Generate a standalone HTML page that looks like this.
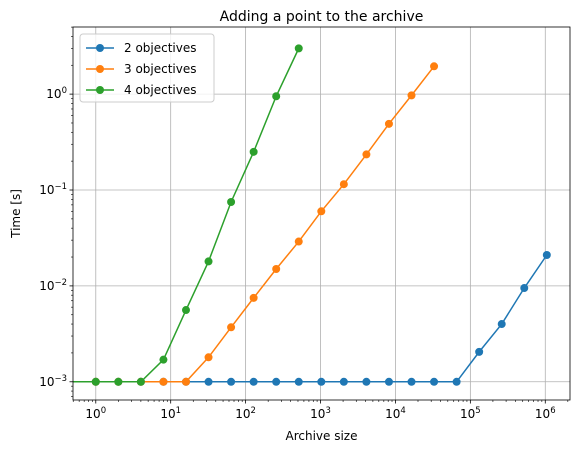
<!DOCTYPE html>
<html><head><meta charset="utf-8"><style>
body{margin:0;background:#fff;font-family:"Liberation Sans","DejaVu Sans",sans-serif}
</style></head><body>
<svg id="chart" width="578" height="457" xmlns="http://www.w3.org/2000/svg" font-family="DejaVu Sans, Liberation Sans, sans-serif">
</svg>
<script>
const sizes=[1,2,4,8,16,32,64,128,256,512,1024,2048,4096,8192,16384,32768,65536,131072,262144,524288,1048576];
const obj2=[1e-3,1e-3,1e-3,1e-3,1e-3,1e-3,1e-3,1e-3,1e-3,1e-3,1e-3,1e-3,1e-3,1e-3,1e-3,1e-3,1e-3,2.05e-3,4.0e-3,9.5e-3,2.1e-2];
const obj3=[1e-3,1e-3,1e-3,1e-3,1e-3,1.8e-3,3.7e-3,7.5e-3,1.5e-2,2.9e-2,6.0e-2,1.15e-1,2.35e-1,4.9e-1,0.97,1.95];
const obj4=[1e-3,1e-3,1e-3,1.7e-3,5.6e-3,1.8e-2,7.5e-2,0.25,0.95,3.0];
const seriesNames=["2 objectives","3 objectives","4 objectives"];
const colors=["#1f77b4","#ff7f0e","#2ca02c"];
const xTicks=[0,1,2,3,4,5,6];
const yTicks=[-3,-2,-1,0];

const L=73,R=570,T=27,B=400;
const xMin=Math.log10(0.5)-0.003,xMax=6.33,yMin=-3.19,yMax=0.7;
const X=v=>L+(Math.log10(v)-xMin)/(xMax-xMin)*(R-L);
const Y=v=>B-(Math.log10(v)-yMin)/(yMax-yMin)*(B-T);
const svg=document.getElementById('chart');
const NS='http://www.w3.org/2000/svg';
function mk(t,a,p){const e=document.createElementNS(NS,t);for(const k in a)e.setAttribute(k,a[k]);(p||svg).appendChild(e);return e;}

xTicks.forEach(t=>{const x=L+(t-xMin)/(xMax-xMin)*(R-L);
 const g=mk('line',{x1:x,x2:x,y1:T,y2:B,stroke:'#b0b0b0','stroke-width':0.8});
 
 });
yTicks.forEach(t=>{const y=B-(t-yMin)/(yMax-yMin)*(B-T);
 const g=mk('line',{x1:L,x2:R,y1:y,y2:y,stroke:'#b0b0b0','stroke-width':0.8});
 
 });

const data=[obj2,obj3,obj4];
data.forEach((vals,i)=>{
 const g=mk('g',{});
 
 
 let pts=[[L,Y(vals[0])]];
 vals.forEach((v,j)=>pts.push([X(sizes[j]),Y(v)]));
 mk('polyline',{points:pts.map(p=>p.join(',')).join(' '),fill:'none',stroke:colors[i],'stroke-width':1.5},g);
 vals.forEach((v,j)=>{const c=mk('circle',{cx:X(sizes[j]),cy:Y(v),r:4,fill:colors[i]},g);
  
  });
});

const fr=mk('rect',{x:L,y:T,width:R-L,height:B-T,fill:'none',stroke:'#000','stroke-width':0.8});



for(let d=-1;d<=6;d++){for(let m=1;m<10;m++){const v=m*Math.pow(10,d);const lv=Math.log10(v);
 if(lv<xMin||lv>xMax)continue;const x=L+(lv-xMin)/(xMax-xMin)*(R-L);
 mk('line',{x1:x,x2:x,y1:B,y2:B+(m==1?3.5:2),stroke:'#000','stroke-width':m==1?0.8:0.6});}}
xTicks.forEach(t=>{const x=L+(t-xMin)/(xMax-xMin)*(R-L);
 const tx=mk('text',{x:x,y:B+18,'text-anchor':'middle','font-size':12,fill:'#000'});
 tx.innerHTML='10<tspan dy="-5" font-size="8.5">'+t+'</tspan>';
 
 });
for(let d=-4;d<=0;d++){for(let m=1;m<10;m++){const v=m*Math.pow(10,d);const lv=Math.log10(v);
 if(lv<yMin||lv>yMax)continue;const y=B-(lv-yMin)/(yMax-yMin)*(B-T);
 mk('line',{x1:L,x2:L-(m==1?3.5:2),y1:y,y2:y,stroke:'#000','stroke-width':m==1?0.8:0.6});}}
yTicks.forEach(t=>{const y=B-(t-yMin)/(yMax-yMin)*(B-T);
 const tx=mk('text',{x:L-6,y:y+4,'text-anchor':'end','font-size':12,fill:'#000'});
 tx.innerHTML='10<tspan dy="-5" font-size="8.5">'+(t<0?'\u2212'+(-t):t)+'</tspan>';
 
 });

let e;
e=mk('text',{x:(L+R)/2,y:B+40,'text-anchor':'middle','font-size':12});e.textContent='Archive size';


e=mk('text',{x:20,y:(T+B)/2,'text-anchor':'middle','font-size':12,transform:'rotate(-90 20 '+(T+B)/2+')'});e.textContent='Time [s]';


e=mk('text',{x:(L+R)/2,y:T-6,'text-anchor':'middle','font-size':14});e.textContent='Adding a point to the archive';



const lg=mk('g',{});


mk('rect',{x:80,y:34,width:134,height:68,rx:3,fill:'#fff','fill-opacity':0.8,stroke:'#ccc'},lg);
seriesNames.forEach((n,i)=>{const y=48+i*21;
 const g=mk('g',{},lg);
 
 
 mk('line',{x1:86,x2:114,y1:y,y2:y,stroke:colors[i],'stroke-width':1.5},g);
 mk('circle',{cx:100,cy:y,r:4,fill:colors[i]},g);
 const t=mk('text',{x:124,y:y+4,'font-size':12},g);t.textContent=n;});
</script>
</body></html>
